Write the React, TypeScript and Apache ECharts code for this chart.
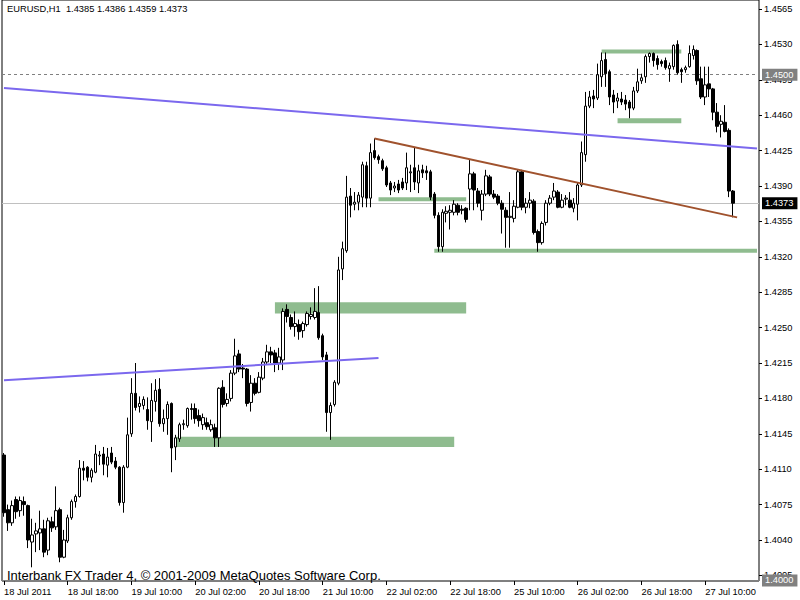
import React, { useEffect, useRef } from "react";
import * as echarts from "echarts";

const symbolName = "EURUSD,H1";
const copyright = "Interbank FX Trader 4, © 2001-2009 MetaQuotes Software Corp.";
const timeLabels = [
  "18 Jul 2011", "18 Jul 18:00", "19 Jul 10:00", "20 Jul 02:00", "20 Jul 18:00", "21 Jul 10:00",
  "22 Jul 02:00", "22 Jul 18:00", "25 Jul 10:00", "26 Jul 02:00", "26 Jul 18:00", "27 Jul 10:00",
];
const barsPerLabel = 16;
const categoryCount = 190;

const open = [
  1.4124,1.4070,1.4057,1.4080,1.4069,1.4078,1.4074,1.4038,1.4046,1.4047,
  1.4051,1.4030,1.4058,1.4053,1.4070,1.4023,1.4039,1.4062,1.4078,1.4083,
  1.4111,1.4112,1.4102,1.4107,1.4123,1.4125,1.4114,1.4126,1.4118,1.4112,
  1.4077,1.4112,1.4145,1.4185,1.4172,1.4173,1.4169,1.4157,1.4177,1.4189,
  1.4155,1.4160,1.4175,1.4132,1.4140,1.4154,1.4153,1.4170,1.4170,1.4163,
  1.4154,1.4156,1.4149,1.4151,1.4141,1.4191,1.4175,1.4180,1.4205,1.4224,
  1.4210,1.4209,1.4176,1.4195,1.4186,1.4200,1.4216,1.4226,1.4225,1.4215,
  1.4218,1.4268,1.4260,1.4251,1.4253,1.4247,1.4253,1.4261,1.4260,1.4265,
  1.4242,1.4223,1.4166,1.4174,1.4195,1.4308,1.4326,1.4380,1.4372,1.4374,
  1.4379,1.4410,1.4378,1.4425,1.4419,1.4415,1.4408,1.4393,1.4388,1.4392,
  1.4394,1.4393,1.4403,1.4408,1.4393,1.4406,1.4405,1.4404,1.4382,1.4361,
  1.4330,1.4363,1.4364,1.4364,1.4371,1.4367,1.4368,1.4387,1.4402,1.4385,
  1.4366,1.4382,1.4399,1.4382,1.4380,1.4373,1.4366,1.4359,1.4358,1.4369,
  1.4404,1.4369,1.4373,1.4375,1.4345,1.4334,1.4354,1.4373,1.4379,1.4384,
  1.4369,1.4377,1.4376,1.4368,1.4372,1.4391,1.4421,1.4469,1.4479,1.4477,
  1.4498,1.4515,1.4503,1.4480,1.4474,1.4476,1.4475,1.4473,1.4467,1.4484,
  1.4494,1.4498,1.4518,1.4521,1.4516,1.4513,1.4514,1.4506,1.4508,1.4530,
  1.4505,1.4505,1.4508,1.4519,1.4524,1.4496,1.4478,1.4491,1.4486,1.4463,
  1.4451,1.4453,1.4445,1.4385,
];
const high = [
  1.4126,1.4075,1.4079,1.4083,1.4083,1.4083,1.4075,1.4061,1.4057,1.4069,
  1.4060,1.4062,1.4063,1.4093,1.4072,1.4050,1.4065,1.4080,1.4085,1.4119,
  1.4118,1.4113,1.4111,1.4134,1.4128,1.4132,1.4131,1.4132,1.4122,1.4113,
  1.4114,1.4161,1.4200,1.4215,1.4182,1.4182,1.4181,1.4195,1.4199,1.4200,
  1.4169,1.4177,1.4176,1.4144,1.4156,1.4159,1.4171,1.4175,1.4175,1.4169,
  1.4165,1.4161,1.4159,1.4155,1.4191,1.4198,1.4185,1.4208,1.4239,1.4228,
  1.4214,1.4210,1.4203,1.4200,1.4206,1.4220,1.4233,1.4231,1.4228,1.4230,
  1.4269,1.4273,1.4263,1.4266,1.4258,1.4256,1.4266,1.4270,1.4289,1.4291,
  1.4244,1.4226,1.4176,1.4198,1.4320,1.4335,1.4400,1.4388,1.4384,1.4384,
  1.4414,1.4414,1.4432,1.4437,1.4421,1.4417,1.4410,1.4395,1.4394,1.4396,
  1.4398,1.4423,1.4411,1.4428,1.4411,1.4411,1.4410,1.4406,1.4384,1.4364,
  1.4367,1.4370,1.4371,1.4376,1.4373,1.4371,1.4369,1.4416,1.4404,1.4388,
  1.4386,1.4406,1.4401,1.4386,1.4382,1.4376,1.4369,1.4384,1.4376,1.4406,
  1.4406,1.4378,1.4384,1.4377,1.4347,1.4355,1.4376,1.4381,1.4393,1.4386,
  1.4382,1.4381,1.4384,1.4378,1.4393,1.4434,1.4483,1.4484,1.4485,1.4511,
  1.4522,1.4522,1.4505,1.4485,1.4482,1.4483,1.4480,1.4475,1.4488,1.4506,
  1.4501,1.4520,1.4522,1.4522,1.4519,1.4515,1.4517,1.4512,1.4530,1.4534,
  1.4507,1.4509,1.4529,1.4529,1.4525,1.4508,1.4508,1.4508,1.4487,1.4472,
  1.4460,1.4470,1.4447,1.4386,
];
const low = [
  1.4063,1.4049,1.4054,1.4061,1.4063,1.4064,1.4032,1.4013,1.4028,1.4030,
  1.4023,1.4025,1.4048,1.4050,1.4018,1.4022,1.4037,1.4060,1.4072,1.4082,
  1.4099,1.4098,1.4097,1.4106,1.4114,1.4104,1.4102,1.4115,1.4110,1.4074,
  1.4067,1.4111,1.4142,1.4168,1.4166,1.4169,1.4149,1.4137,1.4167,1.4152,
  1.4147,1.4144,1.4107,1.4119,1.4137,1.4149,1.4151,1.4159,1.4155,1.4152,
  1.4149,1.4149,1.4147,1.4132,1.4132,1.4171,1.4172,1.4177,1.4203,1.4206,
  1.4200,1.4172,1.4167,1.4183,1.4185,1.4198,1.4213,1.4215,1.4206,1.4208,
  1.4208,1.4255,1.4248,1.4241,1.4238,1.4240,1.4251,1.4258,1.4258,1.4238,
  1.4218,1.4147,1.4139,1.4172,1.4193,1.4297,1.4324,1.4359,1.4366,1.4366,
  1.4369,1.4369,1.4369,1.4416,1.4412,1.4405,1.4389,1.4381,1.4384,1.4383,
  1.4386,1.4386,1.4384,1.4386,1.4383,1.4398,1.4396,1.4376,1.4358,1.4325,
  1.4325,1.4354,1.4347,1.4361,1.4361,1.4362,1.4354,1.4366,1.4366,1.4369,
  1.4356,1.4380,1.4380,1.4377,1.4371,1.4343,1.4329,1.4329,1.4354,1.4368,
  1.4366,1.4363,1.4368,1.4342,1.4325,1.4332,1.4351,1.4371,1.4376,1.4368,
  1.4368,1.4371,1.4368,1.4364,1.4356,1.4389,1.4414,1.4467,1.4467,1.4475,
  1.4488,1.4488,1.4470,1.4462,1.4467,1.4470,1.4465,1.4457,1.4465,1.4482,
  1.4491,1.4492,1.4512,1.4508,1.4505,1.4508,1.4505,1.4493,1.4505,1.4500,
  1.4492,1.4502,1.4507,1.4515,1.4490,1.4476,1.4470,1.4478,1.4455,1.4443,
  1.4438,1.4443,1.4379,1.4359,
];
const close = [
  1.4067,1.4057,1.4074,1.4068,1.4079,1.4075,1.4040,1.4045,1.4049,1.4051,
  1.4028,1.4059,1.4052,1.4069,1.4023,1.4040,1.4062,1.4078,1.4083,1.4111,
  1.4109,1.4102,1.4109,1.4125,1.4124,1.4115,1.4122,1.4117,1.4112,1.4077,
  1.4112,1.4144,1.4185,1.4171,1.4175,1.4179,1.4158,1.4178,1.4188,1.4155,
  1.4160,1.4174,1.4131,1.4141,1.4154,1.4155,1.4170,1.4169,1.4160,1.4158,
  1.4161,1.4152,1.4154,1.4141,1.4190,1.4174,1.4179,1.4205,1.4222,1.4209,
  1.4209,1.4175,1.4195,1.4185,1.4201,1.4216,1.4226,1.4223,1.4215,1.4221,
  1.4266,1.4261,1.4251,1.4254,1.4246,1.4254,1.4264,1.4263,1.4266,1.4240,
  1.4221,1.4166,1.4173,1.4196,1.4307,1.4328,1.4379,1.4371,1.4374,1.4381,
  1.4411,1.4378,1.4423,1.4418,1.4416,1.4407,1.4391,1.4386,1.4390,1.4386,
  1.4388,1.4408,1.4404,1.4394,1.4405,1.4403,1.4403,1.4379,1.4361,1.4330,
  1.4364,1.4365,1.4366,1.4372,1.4364,1.4366,1.4357,1.4402,1.4386,1.4373,
  1.4382,1.4400,1.4382,1.4379,1.4373,1.4367,1.4359,1.4360,1.4370,1.4404,
  1.4369,1.4373,1.4376,1.4344,1.4334,1.4353,1.4373,1.4378,1.4385,1.4369,
  1.4376,1.4378,1.4369,1.4373,1.4391,1.4423,1.4469,1.4478,1.4476,1.4500,
  1.4514,1.4501,1.4478,1.4473,1.4477,1.4473,1.4471,1.4467,1.4484,1.4493,
  1.4497,1.4518,1.4521,1.4514,1.4510,1.4511,1.4507,1.4509,1.4529,1.4502,
  1.4503,1.4507,1.4521,1.4525,1.4494,1.4478,1.4490,1.4486,1.4463,1.4449,
  1.4454,1.4444,1.4385,1.4373,
];

// trend lines: [barIndex, price] endpoints
const purpleLongLine = [[0, 1.4487], [189, 1.4427]];
const purpleShortLine = [[0, 1.4198], [94, 1.4220]];
const brownLine = [[93, 1.4437], [184, 1.4359]];
// zones: [fromBar, toBar, topPrice, bottomPrice]
const zones = [
  [150, 170, 1.4525, 1.4521],
  [154, 170, 1.4457, 1.4452],
  [94, 116, 1.4379, 1.4375],
  [108, 189, 1.4328, 1.4324],
  [68, 116, 1.4275, 1.4264],
  [43, 113, 1.4142, 1.4132],
];
// horizontal price lines
const levelLine = 1.45;
const bidLine = 1.4373;
const bottomLine = 1.4;
// price axis
const axisMin = 1.397;
const axisMax = 1.46;
const axisStep = 0.0035;
const firstShownTick = 1.4005;
const lastShownTick = 1.4565;

const FONT = "Liberation Sans";

export default function App() {
  const ref = useRef<HTMLDivElement>(null);
  useEffect(() => {
    document.body.style.margin = "0";
    const chart = echarts.init(ref.current!, null, { renderer: "svg" });
    const categories = Array.from({ length: categoryCount }, (_, i) => String(i));
    const candleData = open.map((o, i) => [o, close[i], low[i], high[i]]);
    const last = open.length - 1;
    const header = `${symbolName}  ${open[last].toFixed(4)} ${high[last].toFixed(4)} ${low[last].toFixed(4)} ${close[last].toFixed(4)}`;
    const showIdx = (i: number) => i % barsPerLabel === 0;
    const lineSeries = (d: number[][], color: string) => ({
      type: "line",
      xAxisIndex: 0,
      yAxisIndex: 0,
      data: d,
      showSymbol: false,
      symbol: "none",
      silent: true,
      z: 4,
      lineStyle: { color, width: 2 },
    });
    const option: any = {
      animation: false,
      backgroundColor: "#ffffff",
      grid: [
        { left: 2, top: -26.4, width: 757, height: 637.2, show: false, outerBoundsMode: "none" },
        {
          left: 2, top: 0, width: 757, height: 581, show: true,
          borderColor: "#000", borderWidth: 1, backgroundColor: "transparent", outerBoundsMode: "none",
        },
      ],
      xAxis: [
        { type: "category", gridIndex: 0, data: categories, boundaryGap: true, show: false },
        {
          type: "category", gridIndex: 1, data: categories, boundaryGap: true, position: "bottom",
          axisLine: { show: false },
          axisTick: { show: true, alignWithLabel: true, interval: showIdx, length: 4, lineStyle: { color: "#000" } },
          axisLabel: {
            interval: showIdx,
            formatter: (_v: string, i: number) => timeLabels[i / barsPerLabel] ?? "",
            align: "left", margin: 6, fontFamily: FONT, fontSize: 9.3, color: "#000",
          },
          splitLine: { show: false },
        },
      ],
      yAxis: [
        {
          type: "value", gridIndex: 0, position: "right", min: axisMin, max: axisMax, interval: axisStep,
          axisLine: { show: false },
          axisTick: { show: true, length: 3, lineStyle: { color: "#000" } },
          splitLine: { show: false },
          axisLabel: {
            formatter: (v: number) => (v < firstShownTick - 1e-6 || v > lastShownTick + 1e-6 ? "" : v.toFixed(4)),
            margin: 5, fontFamily: FONT, fontSize: 9.3, color: "#000",
          },
        },
        { type: "value", gridIndex: 1, min: 0, max: 1, show: false },
      ],
      graphic: [
        { type: "text", left: 7, top: 4, z: 20, style: { text: header, fill: "#000", font: `9.3px "${FONT}"` } },
        { type: "text", left: 7, top: 569, z: 20, style: { text: copyright, fill: "#000", font: `13px "${FONT}"` } },
      ],
      series: [
        {
          type: "candlestick",
          xAxisIndex: 0,
          yAxisIndex: 0,
          data: candleData,
          barWidth: 3,
          z: 3,
          itemStyle: { color: "#ffffff", color0: "#000000", borderColor: "#000000", borderColor0: "#000000", borderWidth: 1 },
          markArea: {
            silent: true,
            z: 1,
            itemStyle: { color: "#8FBC8F", opacity: 1, borderWidth: 0 },
            data: zones.map((z) => [{ coord: [z[0], z[2]] }, { coord: [z[1], z[3]] }]),
          },
          markLine: {
            silent: true,
            symbol: ["none", "none"],
            precision: 4,
            z: 2,
            label: {
              show: true, position: "end", distance: 3,
              formatter: (p: any) => Number(p.value).toFixed(4),
              padding: [2, 4, 1, 3], fontFamily: FONT, fontSize: 9.3,
            },
            data: [
              { yAxis: levelLine, lineStyle: { color: "#808080", type: [3, 3], width: 1 }, label: { backgroundColor: "#808080", color: "#fff" } },
              { yAxis: bidLine, lineStyle: { color: "#c0c0c0", type: "solid", width: 1 }, label: { backgroundColor: "#000", color: "#fff" } },
              { yAxis: bottomLine, lineStyle: { color: "#808080", type: [3, 3], width: 1 }, label: { backgroundColor: "#808080", color: "#fff" } },
            ],
          },
        },
        lineSeries(purpleLongLine, "#7B68EE"),
        lineSeries(purpleShortLine, "#7B68EE"),
        lineSeries(brownLine, "#A0522D"),
      ],
    };
    chart.setOption(option);
    return () => chart.dispose();
  }, []);
  return <div ref={ref} style={{ width: 800, height: 600 }} />;
}
